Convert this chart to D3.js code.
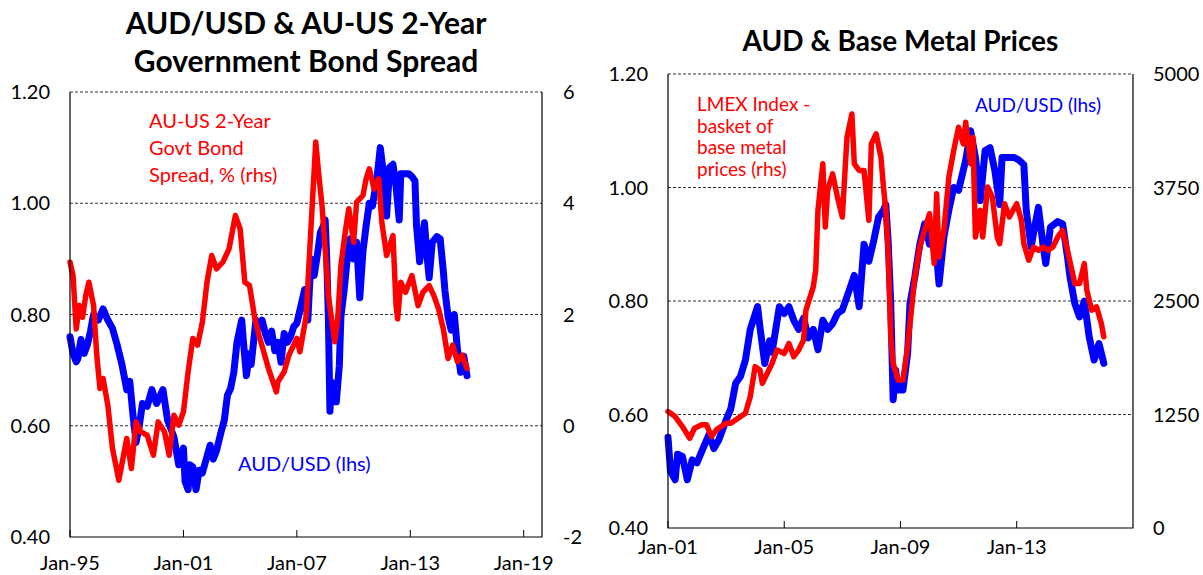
<!DOCTYPE html>
<html>
<head>
<meta charset="utf-8">
<script src="https://cdn.jsdelivr.net/npm/d3@7"></script>
<style>
  body { margin: 0; background: #fff; }
  svg text { font-family: Lato, "Open Sans", sans-serif; fill: #000; }
</style>
</head>
<body>
<div id="chart"></div>
<script>
// AUD/USD, month and level
const audUsd = [
  ["1995-01",0.76],["1995-03",0.73],["1995-05",0.715],["1995-06",0.72],["1995-08",0.755],["1995-10",0.73],["1995-12",0.745],
  ["1996-02",0.77],["1996-04",0.80],["1996-07",0.79],["1996-10",0.81],
  ["1997-01",0.79],["1997-04",0.775],["1997-07",0.745],["1997-10",0.71],
  ["1998-01",0.665],["1998-03",0.68],["1998-05",0.62],["1998-07",0.57],["1998-09",0.60],["1998-11",0.64],
  ["1999-02",0.635],["1999-05",0.665],["1999-08",0.64],["1999-12",0.665],
  ["2000-03",0.61],["2000-07",0.58],["2000-10",0.53],
  ["2001-01",0.56],["2001-02",0.50],["2001-04",0.485],["2001-05",0.53],["2001-07",0.526],["2001-09",0.485],["2001-11",0.52],
  ["2002-01",0.515],["2002-04",0.545],["2002-06",0.565],["2002-08",0.54],["2002-10",0.555],
  ["2003-01",0.59],["2003-03",0.61],["2003-05",0.655],["2003-07",0.667],["2003-09",0.696],["2003-11",0.75],
  ["2004-02",0.79],["2004-03",0.755],["2004-05",0.69],["2004-07",0.73],["2004-08",0.71],["2004-11",0.79],
  ["2005-01",0.778],["2005-03",0.79],["2005-05",0.766],["2005-07",0.75],["2005-09",0.77],["2005-11",0.735],
  ["2006-01",0.75],["2006-03",0.714],["2006-05",0.766],["2006-07",0.75],["2006-09",0.76],["2006-11",0.778],
  ["2007-01",0.784],["2007-04",0.82],["2007-06",0.845],["2007-08",0.79],["2007-10",0.90],["2007-12",0.87],
  ["2008-02",0.907],["2008-04",0.948],["2008-06",0.96],["2008-07",0.97],["2008-08",0.90],["2008-09",0.795],
  ["2008-10",0.626],["2008-11",0.678],["2008-12",0.643],
  ["2009-02",0.643],["2009-04",0.708],["2009-05",0.796],["2009-07",0.843],["2009-09",0.90],["2009-11",0.936],
  ["2010-01",0.90],["2010-03",0.93],["2010-05",0.83],["2010-07",0.913],["2010-09",0.96],["2010-11",1.00],
  ["2011-01",0.995],["2011-04",1.048],["2011-06",1.10],["2011-08",1.053],["2011-10",0.977],["2011-12",1.065],
  ["2012-02",1.07],["2012-04",1.03],["2012-06",0.97],["2012-07",1.053],["2012-09",1.053],["2012-12",1.053],
  ["2013-02",1.048],["2013-04",1.04],["2013-05",0.96],["2013-07",0.895],["2013-08",0.92],["2013-10",0.965],["2013-12",0.895],
  ["2014-01",0.866],["2014-03",0.93],["2014-06",0.94],["2014-08",0.936],["2014-10",0.878],["2014-11",0.843],
  ["2015-01",0.796],["2015-03",0.772],["2015-05",0.80],["2015-07",0.737],["2015-09",0.696],["2015-11",0.725],
  ["2016-01",0.69]
];

// AU-US 2-year govt bond spread, % points
const bondSpread = [
  ["1995-01",2.94],["1995-03",2.70],["1995-05",1.74],["1995-07",2.16],["1995-09",1.95],["1995-11",2.34],
  ["1996-01",2.58],["1996-04",2.16],["1996-06",1.27],["1996-08",0.67],["1996-10",0.85],
  ["1997-01",0.37],["1997-04",-0.41],["1997-07",-0.83],["1997-08",-0.98],["1997-11",-0.53],
  ["1998-01",-0.23],["1998-04",-0.77],["1998-07",0.07],["1998-10",-0.11],
  ["1999-02",-0.17],["1999-06",-0.53],["1999-09",0.07],
  ["2000-01",-0.11],["2000-04",-0.53],["2000-07",0.19],["2000-10",0.01],
  ["2001-01",0.25],["2001-04",0.97],["2001-07",1.57],["2001-10",1.45],
  ["2002-01",1.86],["2002-04",2.58],["2002-07",3.06],["2002-10",2.82],
  ["2003-02",2.94],["2003-06",3.18],["2003-10",3.78],
  ["2004-01",3.54],["2004-04",2.58],["2004-07",2.52],["2004-10",1.98],
  ["2005-01",1.62],["2005-04",1.33],["2005-07",1.03],["2005-12",0.61],
  ["2006-01",0.79],["2006-05",0.97],["2006-08",1.27],
  ["2007-01",1.57],["2007-03",1.33],["2007-07",1.98],["2007-09",3.06],["2007-11",4.08],
  ["2008-01",5.10],["2008-03",4.50],["2008-05",3.96],["2008-07",3.18],["2008-09",2.34],
  ["2009-01",1.51],["2009-03",1.92],["2009-05",2.88],["2009-08",3.54],["2009-10",3.90],
  ["2010-01",3.30],["2010-03",4.02],["2010-07",4.14],["2010-09",4.44],["2010-11",4.62],
  ["2011-02",4.26],["2011-05",4.44],["2011-07",3.66],["2011-10",3.06],
  ["2012-02",3.42],["2012-04",2.16],["2012-05",1.92],["2012-07",2.58],["2012-10",2.40],
  ["2013-02",2.70],["2013-06",2.16],["2013-09",2.40],
  ["2014-01",2.52],["2014-04",2.34],["2014-07",2.10],["2014-10",1.74],
  ["2015-01",1.21],["2015-04",1.45],["2015-07",1.15],["2015-10",1.27],
  ["2016-01",1.03]
];

// LMEX index (basket of base metal prices)
const lmex = [
  ["2001-01",1282],["2001-04",1227],["2001-07",1117],["2001-10",989],["2001-12",1099],
  ["2002-03",1136],["2002-05",1136],["2002-07",1007],["2002-09",1081],
  ["2003-01",1154],["2003-03",1154],["2003-06",1209],["2003-09",1264],["2003-11",1447],
  ["2004-01",1777],["2004-03",1740],["2004-04",1593],["2004-06",1703],["2004-08",1813],["2004-10",1960],
  ["2005-01",1923],["2005-03",2033],["2005-05",1886],["2005-07",1960],["2005-09",2070],["2005-10",2399],
  ["2006-01",2656],["2006-02",2839],["2006-03",3498],["2006-05",4011],["2006-06",3315],["2006-07",3718],["2006-09",3901],["2006-11",3645],
  ["2007-01",3425],["2007-03",4304],["2007-05",4560],["2007-06",4011],["2007-08",3938],["2007-10",3938],["2007-12",3388],
  ["2008-01",4231],["2008-03",4341],["2008-05",4084],["2008-06",3755],["2008-07",3498],["2008-08",3022],["2008-09",2106],["2008-10",1813],["2008-12",1630],
  ["2009-02",1630],["2009-04",1996],["2009-05",2253],["2009-07",2766],["2009-09",3095],["2009-11",3278],
  ["2010-01",3461],["2010-03",2912],["2010-04",3681],["2010-05",2985],["2010-07",3278],["2010-09",3864],["2010-11",4157],
  ["2011-01",4414],["2011-03",4231],["2011-04",4469],["2011-06",4011],["2011-07",4304],["2011-08",3205],["2011-10",3498],["2011-11",3205],
  ["2012-01",3755],["2012-03",3645],["2012-05",3205],["2012-06",3132],["2012-08",3571],["2012-10",3425],
  ["2013-01",3571],["2013-03",3388],["2013-04",3132],["2013-06",2949],["2013-08",3095],["2013-10",3059],["2013-12",3095],
  ["2014-02",3059],["2014-04",3095],["2014-06",3205],["2014-08",3278],["2014-10",3059],
  ["2015-01",2692],["2015-03",2692],["2015-05",2912],["2015-06",2619],["2015-08",2399],["2015-10",2436],["2015-12",2253],
  ["2016-01",2106]
];

const audTicks = [0.4, 0.6, 0.8, 1.0, 1.2];
const spreadTicks = [-2, 0, 2, 4, 6];
const lmexTicks = [0, 1250, 2500, 3750, 5000];
const leftYears = ["1995-01","2001-01","2007-01","2013-01","2019-01"];
const rightYears = ["2001-01","2005-01","2009-01","2013-01"];

const parseMonth = d3.timeParse("%Y-%m");
const fmtMonth = d3.timeFormat("%b-%y");

const svg = d3.select('#chart').append('svg')
  .attr('width', 1203).attr('height', 575);

function drawPanel(cfg) {
  const g = svg.append('g');
  const { left, right, top, bottom } = cfg.box;

  const x = d3.scaleTime().domain(cfg.xDomain.map(parseMonth)).range(cfg.xRange);
  const yL = d3.scaleLinear().domain([0.4, 1.2]).range([bottom, top]);
  const yR = d3.scaleLinear().domain(cfg.rDomain).range([bottom, top]);

  // dashed gridlines (the top one doubles as the frame)
  g.selectAll('.grid').data(audTicks.slice(1)).enter().append('line')
    .attr('x1', left).attr('x2', right)
    .attr('y1', d => yL(d)).attr('y2', d => yL(d))
    .attr('stroke', '#333').attr('stroke-width', 1)
    .attr('stroke-dasharray', '3,2');

  // left axis labels
  g.selectAll('.ylab').data(audTicks).enter().append('text')
    .attr('x', cfg.lLabelX).attr('y', d => yL(d))
    .attr('dy', '0.35em').attr('text-anchor', 'end')
    .style('font-size', cfg.tickSize + 'px')
    .text(d => d3.format('.2f')(d));

  // right axis labels
  g.selectAll('.rlab').data(cfg.rTicks).enter().append('text')
    .attr('x', cfg.rLabelX).attr('y', d => yR(d))
    .attr('dy', '0.35em').attr('text-anchor', 'start')
    .style('font-size', cfg.tickSize + 'px')
    .text(d => d);

  // bottom ticks + labels
  const xt = cfg.xTicks.map(parseMonth);
  g.selectAll('.xtick').data(xt).enter().append('line')
    .attr('x1', d => x(d)).attr('x2', d => x(d))
    .attr('y1', bottom).attr('y2', bottom - 7)
    .attr('stroke', '#000').attr('stroke-width', 1);
  g.selectAll('.xlab').data(xt).enter().append('text')
    .attr('x', d => x(d)).attr('y', cfg.xLabelY)
    .attr('text-anchor', 'middle')
    .style('font-size', cfg.tickSize + 'px')
    .text(d => fmtMonth(d));

  // series
  const lineL = d3.line().x(d => x(parseMonth(d[0]))).y(d => yL(d[1]));
  const lineR = d3.line().x(d => x(parseMonth(d[0]))).y(d => yR(d[1]));
  const audData = audUsd.filter(d => parseMonth(d[0]) >= parseMonth(cfg.xDomain[0]));
  g.append('path').datum(audData).attr('d', lineL)
    .attr('fill', 'none').attr('stroke', '#0000FF').attr('stroke-width', 7)
    .attr('stroke-linejoin', 'round').attr('stroke-linecap', 'round');
  g.append('path').datum(cfg.rData).attr('d', lineR)
    .attr('fill', 'none').attr('stroke', '#FF0000').attr('stroke-width', 5.5)
    .attr('stroke-linejoin', 'round').attr('stroke-linecap', 'round');

  // solid frame: left, right, bottom
  g.append('path')
    .attr('d', `M${left},${top}V${bottom}H${right}V${top}`)
    .attr('fill', 'none').attr('stroke', '#000').attr('stroke-width', 1.2);

  // title
  cfg.title.forEach((t, i) => {
    g.append('text').attr('x', (left + right) / 2).attr('y', cfg.titleY + i * cfg.titleGap)
      .attr('text-anchor', 'middle').style('font-size', cfg.titleSize + 'px').style('font-weight', 'bold')
      .text(t);
  });

  // series labels
  cfg.redLabel.lines.forEach((t, i) => {
    g.append('text').attr('x', cfg.redLabel.x).attr('y', cfg.redLabel.y + i * cfg.redLabel.gap)
      .style('font-size', cfg.labelSize + 'px').style('fill', '#FF0000').text(t);
  });
  g.append('text').attr('x', cfg.blueLabel.x).attr('y', cfg.blueLabel.y)
    .style('font-size', cfg.labelSize + 'px').style('fill', '#0000FF').text('AUD/USD (lhs)');
}

drawPanel({
  box: { left: 70, right: 542, top: 92, bottom: 537 },
  xDomain: ["1995-01", "2019-01"], xRange: [70, 523.7],
  xTicks: leftYears, xLabelY: 570,
  rDomain: [-2, 6], rTicks: spreadTicks, rData: bondSpread,
  lLabelX: 50, rLabelX: 563, tickSize: 20, labelSize: 20,
  title: ["AUD/USD & AU-US 2-Year", "Government Bond Spread"], titleSize: 30, titleY: 34, titleGap: 38,
  redLabel: { x: 149, y: 128, gap: 27, lines: ["AU-US 2-Year", "Govt Bond", "Spread, % (rhs)"] },
  blueLabel: { x: 238, y: 471 }
});

drawPanel({
  box: { left: 668, right: 1133, top: 74, bottom: 528 },
  xDomain: ["2001-01", "2013-01"], xRange: [668, 1016.7],
  xTicks: rightYears, xLabelY: 554,
  rDomain: [0, 5000], rTicks: lmexTicks, rData: lmex,
  lLabelX: 648, rLabelX: 1153, tickSize: 20, labelSize: 19,
  title: ["AUD & Base Metal Prices"], titleSize: 28, titleY: 51, titleGap: 0,
  redLabel: { x: 697, y: 111, gap: 21.5, lines: ["LMEX Index -", "basket of", "base metal", "prices (rhs)"] },
  blueLabel: { x: 975, y: 112 }
});
</script>
</body>
</html>
